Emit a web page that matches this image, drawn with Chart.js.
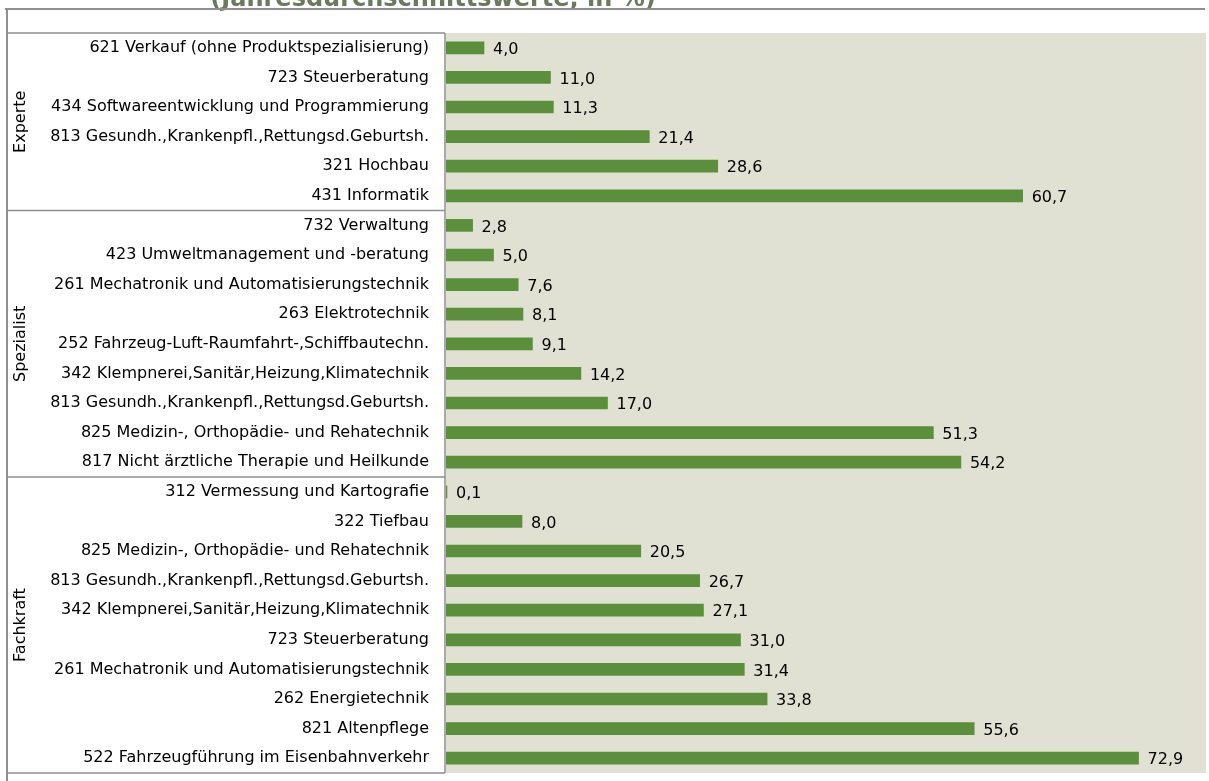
<!DOCTYPE html>
<html>
<head>
<meta charset="utf-8">
<script src="https://cdn.jsdelivr.net/npm/chart.js@4"></script>
<style>
  html, body { margin: 0; padding: 0; background: #ffffff; }
  #wrap { width: 1209px; height: 781px; }
</style>
</head>
<body>
<div id="wrap"><canvas id="chart" width="1209" height="781"></canvas></div>
<script>
// ===== DATA =====
const titleText = '(Jahresdurchschnittswerte, in %)';

const groupNames = ['Experte', 'Spezialist', 'Fachkraft'];

const experteLabels = [
    '621 Verkauf (ohne Produktspezialisierung)',
    '723 Steuerberatung',
    '434 Softwareentwicklung und Programmierung',
    '813 Gesundh.,Krankenpfl.,Rettungsd.Geburtsh.',
    '321 Hochbau',
    '431 Informatik'
];
const experteValues = [4.0, 11.0, 11.3, 21.4, 28.6, 60.7];

const spezialistLabels = [
    '732 Verwaltung',
    '423 Umweltmanagement und -beratung',
    '261 Mechatronik und Automatisierungstechnik',
    '263 Elektrotechnik',
    '252 Fahrzeug-Luft-Raumfahrt-,Schiffbautechn.',
    '342 Klempnerei,Sanitär,Heizung,Klimatechnik',
    '813 Gesundh.,Krankenpfl.,Rettungsd.Geburtsh.',
    '825 Medizin-, Orthopädie- und Rehatechnik',
    '817 Nicht ärztliche Therapie und Heilkunde'
];
const spezialistValues = [2.8, 5.0, 7.6, 8.1, 9.1, 14.2, 17.0, 51.3, 54.2];

const fachkraftLabels = [
    '312 Vermessung und Kartografie',
    '322 Tiefbau',
    '825 Medizin-, Orthopädie- und Rehatechnik',
    '813 Gesundh.,Krankenpfl.,Rettungsd.Geburtsh.',
    '342 Klempnerei,Sanitär,Heizung,Klimatechnik',
    '723 Steuerberatung',
    '261 Mechatronik und Automatisierungstechnik',
    '262 Energietechnik',
    '821 Altenpflege',
    '522 Fahrzeugführung im Eisenbahnverkehr'
];
const fachkraftValues = [0.1, 8.0, 20.5, 26.7, 27.1, 31.0, 31.4, 33.8, 55.6, 72.9];

const xMin = 0;
const xMax = 80;

// ===== BUILD =====
const allLabels = experteLabels.concat(spezialistLabels, fachkraftLabels);
const allValues = experteValues.concat(spezialistValues, fachkraftValues);
const groupSizes = [experteLabels.length, spezialistLabels.length, fachkraftLabels.length];

const FONT = '"DejaVu Sans", sans-serif';
const LINE = '#8f8f8f';

function fmt(v) {
    return v.toFixed(1).replace('.', ',');
}

// background, frame, group boxes and title
const decorPlugin = {
    id: 'decor',
    beforeDatasetsDraw(chart) {
        const { ctx, chartArea } = chart;
        ctx.save();
        ctx.fillStyle = '#e0e0d3';
        ctx.fillRect(chartArea.left, chartArea.top, chartArea.right - chartArea.left, chartArea.bottom - chartArea.top);
        ctx.restore();
    },
    afterDraw(chart) {
        const { ctx, chartArea } = chart;
        const yScale = chart.scales.y;
        ctx.save();

        // title (cut off at top)
        ctx.fillStyle = '#6b7a5e';
        ctx.font = 'bold 24px ' + FONT;
        ctx.textAlign = 'center';
        ctx.textBaseline = 'alphabetic';
        ctx.fillText(titleText, 433, 6);

        // outer frame
        ctx.strokeStyle = LINE;
        ctx.lineWidth = 2;
        ctx.beginPath();
        ctx.moveTo(5, 9);
        ctx.lineTo(1205, 9);
        ctx.moveTo(7, 9);
        ctx.lineTo(7, 781);
        ctx.stroke();

        // group boxes
        const left = 7;
        const right = chartArea.left - 1;
        ctx.lineWidth = 1.5;
        ctx.beginPath();
        ctx.moveTo(right, chartArea.top);
        ctx.lineTo(right, chartArea.bottom);
        let start = 0;
        const bounds = [chartArea.top];
        groupSizes.forEach(n => {
            start += n;
            bounds.push(yScale.getPixelForValue(start - 0.5));
        });
        bounds.forEach(y => {
            ctx.moveTo(left, y);
            ctx.lineTo(right, y);
        });
        ctx.stroke();

        // group names (rotated)
        ctx.fillStyle = '#000000';
        ctx.font = '16px ' + FONT;
        ctx.textAlign = 'center';
        ctx.textBaseline = 'middle';
        groupNames.forEach((name, i) => {
            const yc = (bounds[i] + bounds[i + 1]) / 2;
            ctx.save();
            ctx.translate(21, yc);
            ctx.rotate(-Math.PI / 2);
            ctx.fillText(name, 0, 0);
            ctx.restore();
        });

        // value labels
        const meta = chart.getDatasetMeta(0);
        ctx.font = '16px ' + FONT;
        ctx.textAlign = 'left';
        ctx.textBaseline = 'middle';
        meta.data.forEach((bar, i) => {
            ctx.fillText(fmt(allValues[i]), bar.x + 9, bar.y + 2);
        });

        ctx.restore();
    }
};

new Chart(document.getElementById('chart'), {
    type: 'bar',
    data: {
        labels: allLabels,
        datasets: [{
            data: allValues,
            backgroundColor: '#5b8f3b',
            borderWidth: 0,
            barThickness: 12
        }]
    },
    options: {
        indexAxis: 'y',
        responsive: false,
        animation: false,
        layout: { padding: { left: 0, right: 3, top: 33, bottom: 8 } },
        plugins: {
            legend: { display: false },
            tooltip: { enabled: false }
        },
        scales: {
            x: {
                display: false,
                min: xMin,
                max: xMax
            },
            y: {
                grid: { display: false, drawTicks: false },
                border: { display: false },
                ticks: {
                    color: '#000000',
                    font: { family: FONT, size: 16 },
                    padding: 17,
                    autoSkip: false
                },
                afterFit(scale) {
                    scale.width = 446;
                    scale.paddingTop = 0;
                    scale.paddingBottom = 0;
                }
            }
        }
    },
    plugins: [decorPlugin]
});
</script>
</body>
</html>
